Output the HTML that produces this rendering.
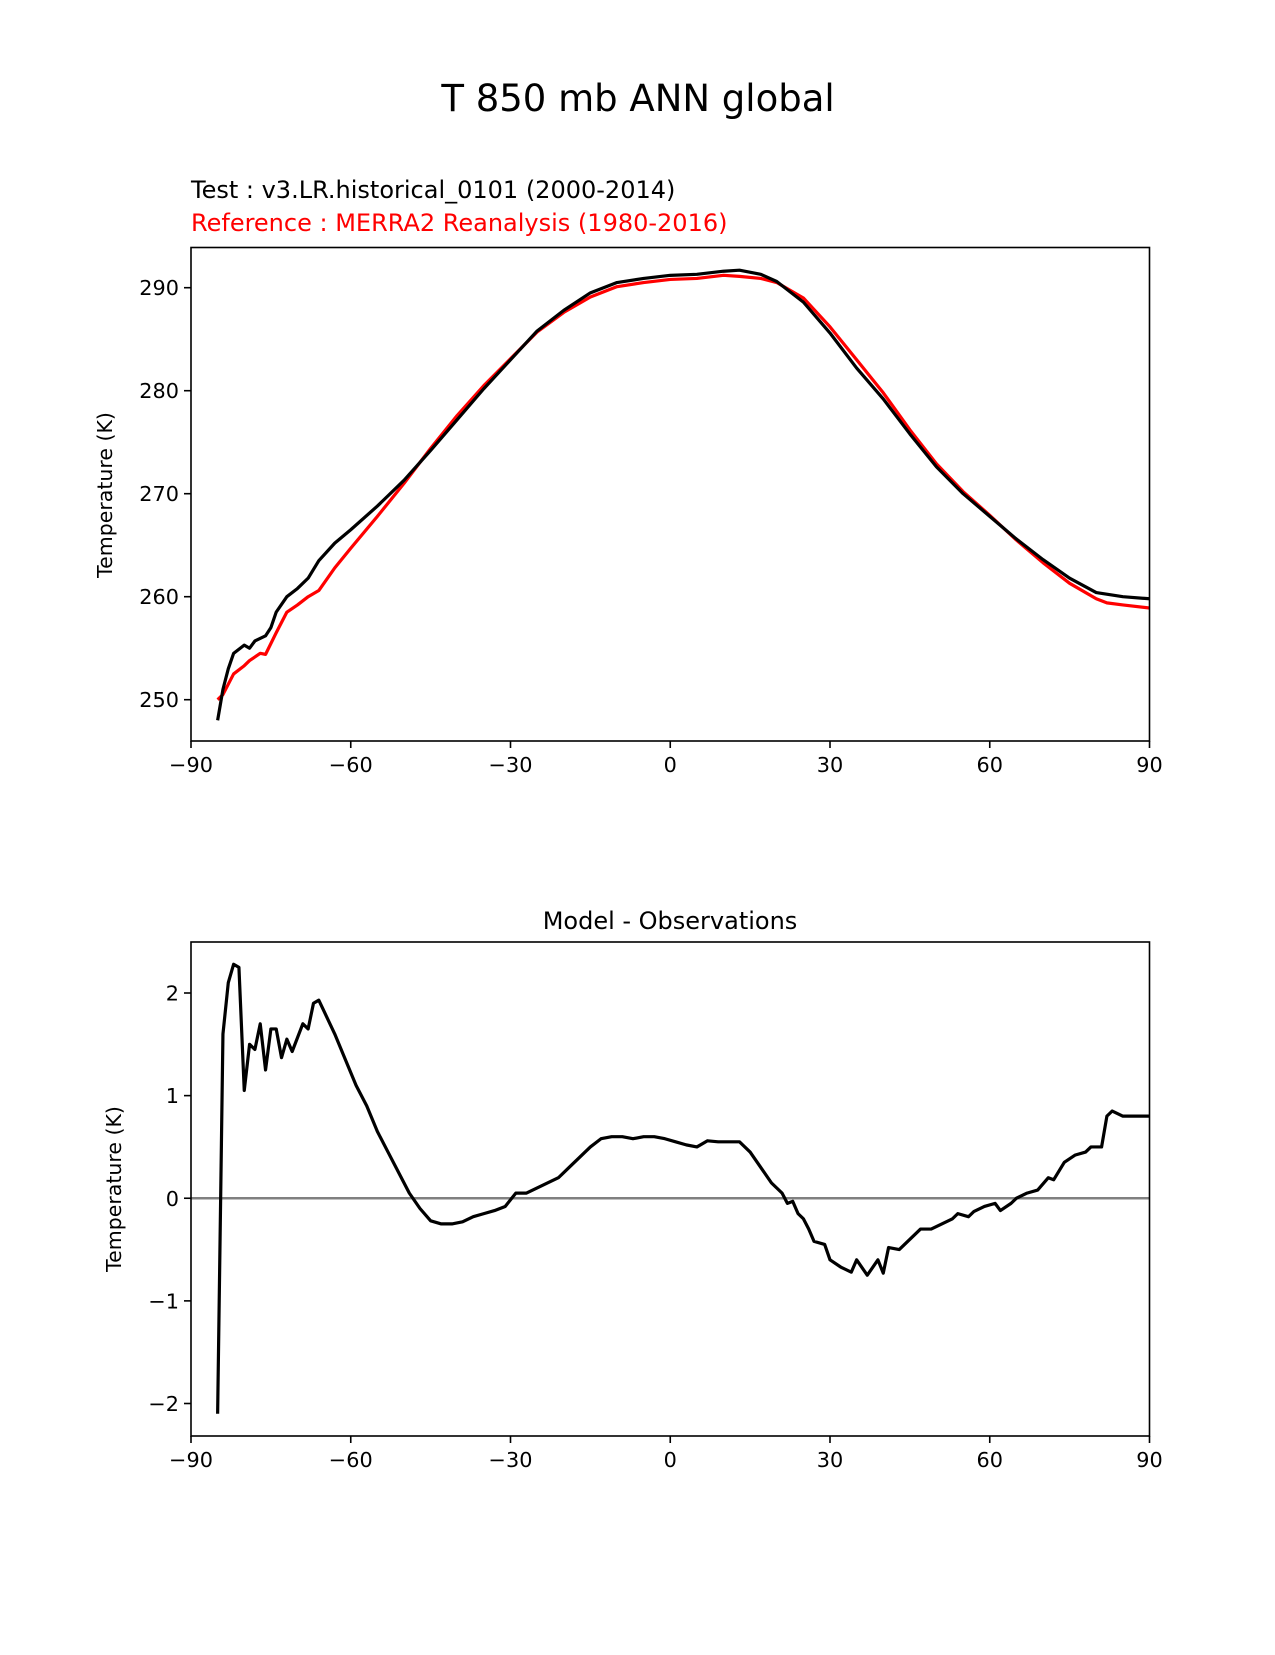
<!DOCTYPE html>
<html><head><meta charset="utf-8"><style>
body{margin:0;background:#fff}
svg text{font-family:"DejaVu Sans","Liberation Sans",sans-serif}
</style></head><body>
<svg id="fig" width="1275" height="1650" viewBox="0 0 1275 1650" xmlns="http://www.w3.org/2000/svg">
<rect width="1275" height="1650" fill="#fff"/>
<text x="638" y="111" font-size="37" text-anchor="middle">T 850 mb ANN global</text>
<text x="191" y="198" font-size="24">Test : v3.LR.historical_0101 (2000-2014)</text>
<text x="191" y="231" font-size="24" fill="#ff0000">Reference : MERRA2 Reanalysis (1980-2016)</text>
<text x="670" y="929" font-size="24" text-anchor="middle">Model - Observations</text>
<g id="top"></g>
<g id="bot"></g>
</svg>
<script>
const testLat=[-85,-84,-83,-82,-80,-79,-78,-76,-75,-74,-72,-70,-68,-66,-63,-60,-55,-50,-45,-40,-35,-30,-25,-20,-15,-10,-5,0,5,10,13,17,20,25,30,35,40,45,50,55,60,65,70,75,80,85,90];
const testVal=[248,251,253,254.5,255.3,255,255.7,256.2,257,258.5,260,260.8,261.8,263.5,265.2,266.5,268.8,271.3,274.2,277.2,280.2,283,285.8,287.8,289.5,290.5,290.9,291.2,291.3,291.6,291.7,291.3,290.6,288.6,285.6,282.2,279.2,275.8,272.6,270,267.8,265.6,263.6,261.8,260.4,260,259.8];
const refLat=[-85,-84,-82,-80,-79,-77,-76,-74,-72,-70,-68,-66,-63,-60,-55,-50,-45,-40,-35,-30,-25,-20,-15,-10,-5,0,5,10,13,17,20,25,30,35,40,45,50,55,60,65,70,75,80,82,85,90];
const refVal=[250,250.5,252.5,253.3,253.8,254.5,254.4,256.5,258.5,259.2,260,260.6,262.8,264.7,267.8,271,274.4,277.6,280.5,283.1,285.7,287.6,289.1,290.1,290.5,290.8,290.9,291.2,291.1,290.9,290.5,289,286.2,283,279.8,276.2,272.9,270.2,267.9,265.5,263.3,261.3,259.8,259.4,259.2,258.9];
const diffLat=[-85,-84,-83,-82,-81,-80,-79,-78,-77,-76,-75,-74,-73,-72,-71,-69,-68,-67,-66,-65,-63,-61,-59,-57,-55,-53,-51,-49,-47,-45,-43,-41,-39,-37,-35,-33,-31,-29,-27,-25,-23,-21,-19,-17,-15,-13,-11,-9,-7,-5,-3,-1,1,3,5,7,9,11,13,15,17,19,21,22,23,24,25,26,27,29,30,32,34,35,37,39,40,41,43,45,47,49,51,53,54,56,57,59,61,62,64,65,67,69,71,72,74,76,78,79,81,82,83,85,87,89,90];
const diffVal=[-2.1,1.6,2.1,2.28,2.25,1.05,1.5,1.45,1.7,1.25,1.65,1.65,1.37,1.55,1.43,1.7,1.65,1.9,1.93,1.82,1.6,1.35,1.1,0.9,0.65,0.45,0.25,0.05,-0.1,-0.22,-0.25,-0.25,-0.23,-0.18,-0.15,-0.12,-0.08,0.05,0.05,0.1,0.15,0.2,0.3,0.4,0.5,0.58,0.6,0.6,0.58,0.6,0.6,0.58,0.55,0.52,0.5,0.56,0.55,0.55,0.55,0.45,0.3,0.15,0.05,-0.05,-0.03,-0.15,-0.2,-0.3,-0.42,-0.45,-0.6,-0.67,-0.72,-0.6,-0.75,-0.6,-0.73,-0.48,-0.5,-0.4,-0.3,-0.3,-0.25,-0.2,-0.15,-0.18,-0.13,-0.08,-0.05,-0.12,-0.05,0,0.05,0.08,0.2,0.18,0.35,0.42,0.45,0.5,0.5,0.8,0.85,0.8,0.8,0.8,0.8];
const xTicks=[-90,-60,-30,0,30,60,90];
const xTickLabels=["\u221290","\u221260","\u221230","0","30","60","90"];
const topYTicks=[250,260,270,280,290];
const topYTickLabels=["250","260","270","280","290"];
const botYTicks=[-2,-1,0,1,2];
const botYTickLabels=["\u22122","\u22121","0","1","2"];

const NS="http://www.w3.org/2000/svg";
function mk(parent,tag,attrs){const e=document.createElementNS(NS,tag);for(const k in attrs)e.setAttribute(k,attrs[k]);parent.appendChild(e);return e;}
function linear(d0,d1,r0,r1){return v=>r0+(v-d0)*(r1-r0)/(d1-d0);}
const L=191,R=1149.5;
const x=linear(-90,90,L,R);

function axes(g,top,bottom,y,yt,ytl,ylabel,ylx,yly){
  xTicks.forEach((t,i)=>{
    const tk=mk(g,'line',{x1:x(t),x2:x(t),y1:bottom,y2:bottom+7,stroke:'#000','stroke-width':1.6});
    
    
    const tl=mk(g,'text',{x:x(t),y:bottom+31,'font-size':20.8,'text-anchor':'middle'});
    tl.textContent=xTickLabels[i];
    
    
  });
  yt.forEach((t,i)=>{
    const tk=mk(g,'line',{x1:L-7,x2:L,y1:y(t),y2:y(t),stroke:'#000','stroke-width':1.6});
    
    
    const tl=mk(g,'text',{x:L-12,y:y(t)+7.5,'font-size':20.8,'text-anchor':'end'});
    tl.textContent=ytl[i];
    
    
  });
  const yl=mk(g,'text',{x:ylx,y:yly,'font-size':20.5,'text-anchor':'middle',transform:`rotate(-90 ${ylx} ${yly})`});
  yl.textContent=ylabel;
  
  
}
function line(g,lat,val,y,color,name,w){
  const d=lat.map((la,i)=>(i?'L':'M')+x(la).toFixed(2)+','+y(val[i]).toFixed(2)).join('');
  const p=mk(g,'path',{d:d,fill:'none',stroke:color,'stroke-width':w,'stroke-linejoin':'round'});
  
  
}
function frame(g,top,bottom){
  const f=mk(g,'rect',{x:L,y:top,width:R-L,height:bottom-top,fill:'none',stroke:'#000','stroke-width':1.6});
  
  
}
const gt=document.getElementById('top');
const T0=247.5,B0=741;
const yT=linear(250,290,699.7,287.7);
const cp=mk(document.getElementById('fig'),'clipPath',{id:'c1'});mk(cp,'rect',{x:L,y:T0,width:R-L,height:B0-T0});
const gt2=mk(gt,'g',{'clip-path':'url(#c1)'});
line(gt2,refLat,refVal,yT,'#ff0000','reference-line',3.2);
line(gt2,testLat,testVal,yT,'#000','test-line',3.2);
frame(gt,T0,B0);
axes(gt,T0,B0,yT,topYTicks,topYTickLabels,'Temperature (K)',112,495);
const gb=document.getElementById('bot');
const T1=942,B1=1436;
const yB=linear(-2,2,1403.5,993);
const cp2=mk(document.getElementById('fig'),'clipPath',{id:'c2'});mk(cp2,'rect',{x:L,y:T1,width:R-L,height:B1-T1});
const gb2=mk(gb,'g',{'clip-path':'url(#c2)'});
const zl=mk(gb2,'line',{x1:L,x2:R,y1:yB(0),y2:yB(0),stroke:'#808080','stroke-width':2.6});


line(gb2,diffLat,diffVal,yB,'#000','difference-line',3.2);
frame(gb,T1,B1);
axes(gb,T1,B1,yB,botYTicks,botYTickLabels,'Temperature (K)',121,1189);
</script>
</body></html>
